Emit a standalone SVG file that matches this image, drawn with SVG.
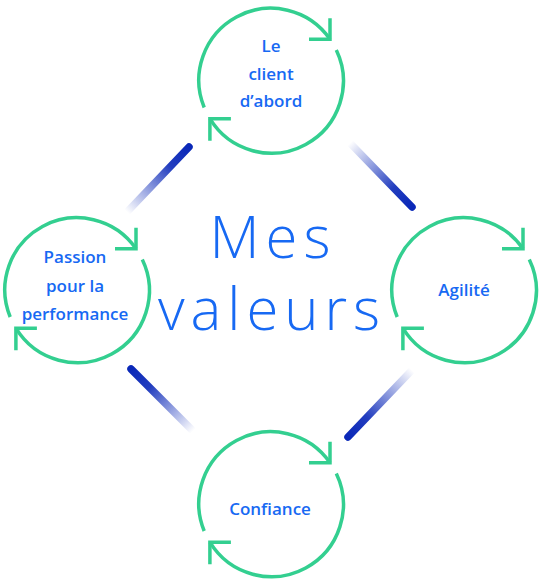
<svg xmlns="http://www.w3.org/2000/svg" width="540" height="580" viewBox="0 0 540 580">
  <defs>
    <style>
      .ring { fill: none; stroke: #33cf90; stroke-width: 3.5; }
      .arr { fill: none; stroke: #33cf90; stroke-width: 3.5; stroke-linecap: butt; stroke-linejoin: miter; }
      .lbl { font-family: "Open Sans", "Noto Sans", "DejaVu Sans", sans-serif; font-size: 17px; font-weight: 600; fill: #1769f3; text-anchor: middle; }
      .title { font-family: "Open Sans", "Noto Sans", "DejaVu Sans", sans-serif; font-size: 58px; font-weight: 300; fill: #1769f3; text-anchor: middle; letter-spacing: 6px; }
      .link { fill: none; stroke-width: 7.5; stroke-linecap: round; }
    </style>
    <linearGradient id="gTL" gradientUnits="userSpaceOnUse" x1="189" y1="147" x2="127" y2="212">
      <stop offset="0" stop-color="#0a28b8" stop-opacity="1"/>
      <stop offset="0.3" stop-color="#0a28b8" stop-opacity="0.9"/>
      <stop offset="1" stop-color="#0a28b8" stop-opacity="0"/>
    </linearGradient>
    <linearGradient id="gTR" gradientUnits="userSpaceOnUse" x1="412" y1="207" x2="350" y2="143">
      <stop offset="0" stop-color="#0a28b8" stop-opacity="1"/>
      <stop offset="0.3" stop-color="#0a28b8" stop-opacity="0.9"/>
      <stop offset="1" stop-color="#0a28b8" stop-opacity="0"/>
    </linearGradient>
    <linearGradient id="gBL" gradientUnits="userSpaceOnUse" x1="131" y1="369" x2="193" y2="431">
      <stop offset="0" stop-color="#0a28b8" stop-opacity="1"/>
      <stop offset="0.3" stop-color="#0a28b8" stop-opacity="0.9"/>
      <stop offset="1" stop-color="#0a28b8" stop-opacity="0"/>
    </linearGradient>
    <linearGradient id="gBR" gradientUnits="userSpaceOnUse" x1="348" y1="437" x2="412" y2="370">
      <stop offset="0" stop-color="#0a28b8" stop-opacity="1"/>
      <stop offset="0.3" stop-color="#0a28b8" stop-opacity="0.9"/>
      <stop offset="1" stop-color="#0a28b8" stop-opacity="0"/>
    </linearGradient>
  </defs>

  <rect width="540" height="580" fill="#ffffff"/>

  <g id="connectors">
    <line class="link" x1="189" y1="147" x2="127" y2="212" stroke="url(#gTL)"/>
    <line class="link" x1="412" y1="207" x2="350" y2="143" stroke="url(#gTR)"/>
    <line class="link" x1="131" y1="369" x2="193" y2="431" stroke="url(#gBL)"/>
    <line class="link" x1="348" y1="437" x2="412" y2="370" stroke="url(#gBR)"/>
  </g>

  <g id="node-client">
    <g transform="translate(271,80.5)">
      <path class="ring" d="M -66.8 27 A 72 72 0 0 1 59 -41.3"/>
      <path class="ring" d="M 65.3 -30.4 A 72 72 0 0 1 -61.1 38.2"/>
      <path class="arr" d="M 59 -62.3 L 59 -41.3 L 38 -41.3"/>
      <path class="arr" d="M -40.1 38.2 L -61.1 38.2 L -61.1 60.2"/>
    </g>
    <text class="lbl" x="271" y="52">Le</text>
    <text class="lbl" x="271" y="80">client</text>
    <text class="lbl" x="271" y="107">d’abord</text>
  </g>

  <g id="node-agilite">
    <g transform="translate(464,290)">
      <path class="ring" d="M -66.8 27 A 72 72 0 0 1 59 -41.3"/>
      <path class="ring" d="M 65.3 -30.4 A 72 72 0 0 1 -61.1 38.2"/>
      <path class="arr" d="M 59 -62.3 L 59 -41.3 L 38 -41.3"/>
      <path class="arr" d="M -40.1 38.2 L -61.1 38.2 L -61.1 60.2"/>
    </g>
    <text class="lbl" x="464" y="296">Agilité</text>
  </g>

  <g id="node-passion">
    <g transform="translate(77,290)">
      <path class="ring" d="M -66.8 27 A 72 72 0 0 1 59 -41.3"/>
      <path class="ring" d="M 65.3 -30.4 A 72 72 0 0 1 -61.1 38.2"/>
      <path class="arr" d="M 59 -62.3 L 59 -41.3 L 38 -41.3"/>
      <path class="arr" d="M -40.1 38.2 L -61.1 38.2 L -61.1 60.2"/>
    </g>
    <text class="lbl" x="75" y="263">Passion</text>
    <text class="lbl" x="75" y="292">pour la</text>
    <text class="lbl" x="75" y="320">performance</text>
  </g>

  <g id="node-confiance">
    <g transform="translate(271,504)">
      <path class="ring" d="M -66.8 27 A 72 72 0 0 1 59 -41.3"/>
      <path class="ring" d="M 65.3 -30.4 A 72 72 0 0 1 -61.1 38.2"/>
      <path class="arr" d="M 59 -62.3 L 59 -41.3 L 38 -41.3"/>
      <path class="arr" d="M -40.1 38.2 L -61.1 38.2 L -61.1 60.2"/>
    </g>
    <text class="lbl" x="270" y="515">Confiance</text>
  </g>

  <g id="title">
    <text class="title" x="273" y="258">Mes</text>
    <text class="title" x="272" y="330">valeurs</text>
  </g>
</svg>
